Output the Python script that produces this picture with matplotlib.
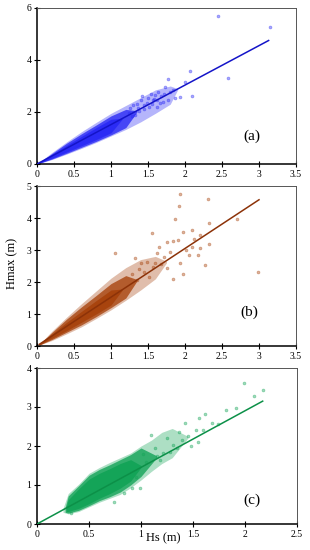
import matplotlib
matplotlib.use("Agg")
import matplotlib.pyplot as plt

plt.rcParams['font.family'] = ['Liberation Serif', 'DejaVu Serif']

# ---------------- Panel (a) ----------------
a_sp_x  = [0, 0.2, 0.4, 0.6, 0.8, 1.0, 1.2, 1.4, 1.6, 1.8, 1.9]
a_sp_hi = [0, 0.44, 0.85, 1.24, 1.60, 1.95, 2.25, 2.55, 2.85, 3.00, 2.90]
a_sp_lo = [0, 0.17, 0.38, 0.60, 0.83, 1.08, 1.33, 1.62, 1.95, 2.30, 2.85]
a_md_x  = [0, 0.2, 0.4, 0.6, 0.8, 1.0, 1.2, 1.35]
a_md_hi = [0, 0.40, 0.80, 1.16, 1.50, 1.85, 2.10, 2.05]
a_md_lo = [0, 0.19, 0.41, 0.64, 0.87, 1.12, 1.40, 2.00]
a_cr_x  = [0, 0.2, 0.4, 0.6, 0.8, 1.0, 1.15]
a_cr_hi = [0, 0.36, 0.72, 1.06, 1.40, 1.72, 1.76]
a_cr_lo = [0, 0.22, 0.46, 0.70, 0.94, 1.20, 1.72]
a_pts_x = [2.45, 3.15, 2.58, 2.09, 1.93, 2.07, 2.00, 1.77, 1.73, 1.84, 1.64, 1.57, 1.77,
           1.35, 1.40, 1.45, 1.50, 1.55, 1.60, 1.62, 1.68, 1.70, 1.80, 1.48, 1.38, 1.30,
           1.25, 1.42, 1.52, 1.58, 1.66, 1.72, 1.86, 1.44, 1.33, 1.28, 1.54, 1.62, 1.24, 1.36]
a_pts_y = [5.70, 5.26, 3.30, 2.62, 2.59, 3.59, 3.17, 3.26, 2.95, 2.85, 2.78, 2.46, 2.46,
           2.30, 2.45, 2.10, 2.55, 2.30, 2.65, 2.20, 2.60, 2.40, 2.75, 2.35, 2.05, 2.25,
           2.15, 2.60, 2.20, 2.50, 2.35, 2.70, 2.55, 2.25, 1.90, 1.85, 2.70, 2.45, 1.95, 2.15]
a_line_x = [0, 3.13]
a_line_y = [0, 4.75]

# ---------------- Panel (b) ----------------
b_sp_x  = [0.03, 0.2, 0.4, 0.6, 0.8, 1.0, 1.2, 1.4, 1.6, 1.75]
b_sp_hi = [0.05, 0.46, 0.90, 1.32, 1.72, 2.12, 2.45, 2.70, 2.80, 2.65]
b_sp_lo = [0.03, 0.17, 0.38, 0.60, 0.86, 1.13, 1.43, 1.75, 2.10, 2.60]
b_md_x  = [0.03, 0.2, 0.4, 0.6, 0.8, 1.0, 1.2, 1.35]
b_md_hi = [0.05, 0.42, 0.84, 1.22, 1.58, 1.95, 2.20, 2.08]
b_md_lo = [0.03, 0.20, 0.43, 0.66, 0.92, 1.20, 1.50, 2.03]
b_cr_x  = [0.03, 0.2, 0.4, 0.6, 0.8, 1.0, 1.15]
b_cr_hi = [0.05, 0.37, 0.74, 1.08, 1.42, 1.75, 1.78]
b_cr_lo = [0.03, 0.24, 0.48, 0.74, 1.00, 1.28, 1.74]
b_pts_x = [1.93, 1.92, 2.31, 1.86, 2.70, 2.33, 2.99, 1.97, 1.84, 1.56, 1.05, 1.97, 2.09, 2.20,
           2.32, 2.20, 2.02, 2.05, 1.75, 1.84, 1.65, 1.71, 1.49, 1.40, 1.33, 2.18, 2.27, 1.75,
           1.57, 2.09, 1.93, 1.45, 1.52, 1.60, 1.38, 1.62, 1.68, 1.80, 1.90, 2.12, 1.28, 1.35]
b_pts_y = [4.75, 4.38, 4.58, 3.96, 3.96, 3.83, 2.30, 2.25, 2.08, 3.52, 2.92, 3.57, 3.62, 3.47,
           3.20, 3.05, 3.00, 2.84, 3.26, 3.29, 3.08, 2.79, 2.64, 2.58, 2.74, 2.84, 2.53, 2.43,
           2.48, 3.10, 2.58, 2.30, 2.15, 2.60, 2.40, 2.90, 2.55, 2.95, 3.30, 3.35, 2.25, 2.05]
b_line_x = [0.03, 3.0]
b_line_y = [0.05, 4.57]

# ---------------- Panel (c) ----------------
c_sp_x  = [0.25, 0.30, 0.40, 0.50, 0.60, 0.70, 0.80, 0.90, 1.00, 1.10, 1.20, 1.30, 1.45]
c_sp_hi = [0.40, 0.78, 1.02, 1.30, 1.45, 1.58, 1.70, 1.82, 2.00, 2.15, 2.35, 2.45, 2.25]
c_sp_lo = [0.30, 0.26, 0.32, 0.44, 0.56, 0.66, 0.76, 0.93, 1.13, 1.35, 1.55, 1.70, 2.20]
c_md_x  = [0.27, 0.30, 0.40, 0.50, 0.60, 0.70, 0.80, 0.90, 1.00, 1.15]
c_md_hi = [0.42, 0.72, 0.98, 1.25, 1.40, 1.52, 1.65, 1.78, 1.95, 1.75]
c_md_lo = [0.30, 0.28, 0.35, 0.47, 0.60, 0.70, 0.82, 1.00, 1.22, 1.70]
c_cr_x  = [0.28, 0.30, 0.40, 0.50, 0.60, 0.70, 0.80, 0.90, 1.00]
c_cr_hi = [0.42, 0.62, 0.90, 1.15, 1.30, 1.42, 1.55, 1.65, 1.50]
c_cr_lo = [0.32, 0.32, 0.40, 0.52, 0.66, 0.78, 0.92, 1.10, 1.45]
c_pts_x = [1.99, 2.17, 2.09, 1.91, 1.82, 1.74, 1.62, 1.56, 1.53, 1.42, 1.37, 1.55, 1.39,
           1.31, 1.25, 1.21, 1.13, 0.74, 0.99, 0.91, 0.33, 1.10, 1.02, 1.18, 1.28, 1.45,
           1.48, 1.35, 1.60, 1.68, 1.05, 1.15, 0.84, 0.95]
c_pts_y = [3.61, 3.44, 3.28, 2.98, 2.93, 2.56, 2.81, 2.71, 2.41, 2.58, 2.37, 2.11, 2.16,
           2.03, 2.20, 1.81, 1.94, 0.57, 0.93, 0.92, 0.28, 2.28, 1.80, 1.65, 1.85, 2.25,
           2.00, 1.95, 2.40, 2.60, 1.60, 1.75, 0.80, 1.20]
c_line_x = [0, 2.17]
c_line_y = [0, 3.15]

x_ticks_ab = [0, 0.5, 1, 1.5, 2, 2.5, 3, 3.5]
x_ticks_c = [0, 0.5, 1, 1.5, 2, 2.5]
x_tick_labels_ab = ['0', '0.5', '1', '1.5', '2', '2.5', '3', '3.5']
x_tick_labels_c = ['0', '0.5', '1', '1.5', '2', '2.5']

W, H = 310, 550
fig = plt.figure(figsize=(W / 100, H / 100), dpi=100)


def make_ax(left, top, right, bottom):
    return fig.add_axes([left / W, 1 - bottom / H, (right - left) / W, (bottom - top) / H])


panels = [
    dict(ax=make_ax(37, 8, 296, 164),
         bands=[(a_sp_x, a_sp_lo, a_sp_hi), (a_md_x, a_md_lo, a_md_hi), (a_cr_x, a_cr_lo, a_cr_hi)],
         px=a_pts_x, py=a_pts_y, lx=a_line_x, ly=a_line_y,
         col='#2b2bf5', lcol='#1414c8', xlim=3.5, ylim=6, yt=[0, 2, 4, 6],
         xt=x_ticks_ab, xtl=x_tick_labels_ab, lab='(a)', lpos=(0.83, 0.175)),
    dict(ax=make_ax(37, 186, 296, 346),
         bands=[(b_sp_x, b_sp_lo, b_sp_hi), (b_md_x, b_md_lo, b_md_hi), (b_cr_x, b_cr_lo, b_cr_hi)],
         px=b_pts_x, py=b_pts_y, lx=b_line_x, ly=b_line_y,
         col='#a8440e', lcol='#8c3208', xlim=3.5, ylim=5, yt=[0, 1, 2, 3, 4, 5],
         xt=x_ticks_ab, xtl=x_tick_labels_ab, lab='(b)', lpos=(0.82, 0.21)),
    dict(ax=make_ax(37, 368, 297, 524),
         bands=[(c_sp_x, c_sp_lo, c_sp_hi), (c_md_x, c_md_lo, c_md_hi), (c_cr_x, c_cr_lo, c_cr_hi)],
         px=c_pts_x, py=c_pts_y, lx=c_line_x, ly=c_line_y,
         col='#14a458', lcol='#0c9048', xlim=2.5, ylim=4, yt=[0, 1, 2, 3, 4],
         xt=x_ticks_c, xtl=x_tick_labels_c, lab='(c)', lpos=(0.826, 0.15)),
]

band_alphas = [0.35, 0.8, 1.0]

for p in panels:
    ax = p['ax']
    for (bx, blo, bhi), al in zip(p['bands'], band_alphas):
        ax.fill_between(bx, blo, bhi, color=p['col'], alpha=al, lw=0, zorder=1)
    ax.scatter(p['px'], p['py'], s=4, facecolors=p['col'], edgecolors=p['col'],
               alpha=0.4, linewidths=0.6, zorder=3)
    ax.plot(p['lx'], p['ly'], color=p['lcol'], lw=1.1, zorder=4)
    ax.set_xlim(0, p['xlim'])
    ax.set_ylim(0, p['ylim'])
    ax.set_xticks(p['xt'])
    ax.set_xticklabels(p['xtl'])
    ax.set_yticks(p['yt'])
    ax.tick_params(direction='inout', length=4, width=0.8, labelsize=7, pad=2)
    for s in ['left', 'bottom']:
        ax.spines[s].set_linewidth(1.1)
        ax.spines[s].set_color('black')
    for s in ['top', 'right']:
        ax.spines[s].set_linewidth(0.7)
        ax.spines[s].set_color('#555555')
    ax.text(p['lpos'][0], p['lpos'][1], p['lab'], transform=ax.transAxes,
            fontsize=11, ha='center', va='center')

fig.text(12 / W, 1 - 263 / H, 'Hmax (m)', rotation=90, ha='center', va='center', fontsize=9)
fig.text(163 / W, 1 - 538 / H, 'Hs (m)', ha='center', va='center', fontsize=9)

fig.savefig('out.png', dpi=100)
